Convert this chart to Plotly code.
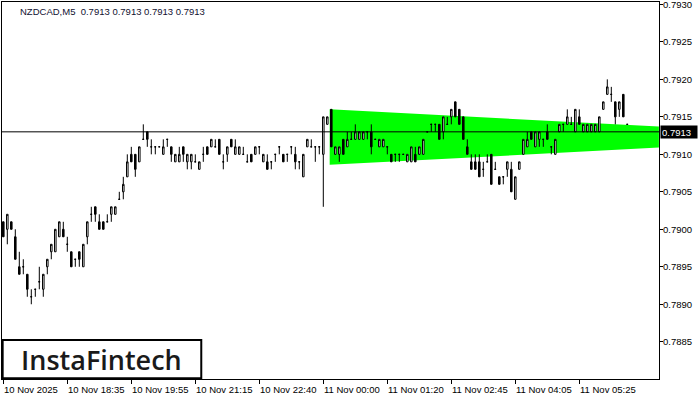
import plotly.graph_objects as go

# NZDCAD M5 candles, one per bar index
bar_open = [
    0.7901, 0.7900, 0.7901, 0.7899, 0.7895, 0.7895, 0.7894, 0.7891, 0.7892, 0.7893,
    0.7892, 0.7895, 0.7897, 0.7897, 0.7899, 0.7900, 0.7898, 0.7897, 0.7896, 0.7897,
    0.7895, 0.7899, 0.7902, 0.7903, 0.7901, 0.7901, 0.7901, 0.7902, 0.7902, 0.7904,
    0.7905, 0.7907, 0.7910, 0.7910, 0.7909, 0.7912, 0.7913, 0.7911, 0.7911, 0.7911,
    0.7910, 0.7912, 0.7911, 0.7909, 0.7909, 0.7911, 0.7909, 0.7909, 0.7909, 0.7908,
    0.7910, 0.7911, 0.7911, 0.7911, 0.7912, 0.7909, 0.7910, 0.7912, 0.7910, 0.7910,
    0.7910, 0.7909, 0.7910, 0.7910, 0.7911, 0.7909, 0.7909, 0.7909, 0.7910, 0.7911,
    0.7910, 0.7910, 0.7911, 0.7910, 0.7909, 0.7907, 0.7911, 0.7911, 0.7911, 0.7911,
    0.7910, 0.7914, 0.7916, 0.7910, 0.7910, 0.7912, 0.7911, 0.7912, 0.7912, 0.7912,
    0.7912, 0.7913, 0.7913, 0.7912, 0.7911, 0.7911, 0.7911, 0.7910, 0.7910, 0.7910,
    0.7910, 0.7909, 0.7909, 0.7910, 0.7910, 0.7910, 0.7913, 0.7914, 0.7914, 0.7914,
    0.7913, 0.7914, 0.7915, 0.7917, 0.7916, 0.7915, 0.7911, 0.7909, 0.7909, 0.7909,
    0.7908, 0.7909, 0.7910, 0.7908, 0.7907, 0.7907, 0.7908, 0.7908, 0.7904, 0.7908,
    0.7910, 0.7911, 0.7913, 0.7911, 0.7912, 0.7912, 0.7913, 0.7911, 0.7910, 0.7913,
    0.7914, 0.7914, 0.7914, 0.7913, 0.7915, 0.7913, 0.7913, 0.7913, 0.7913, 0.7913,
    0.7916, 0.7918, 0.7918, 0.7917, 0.7916, 0.7918, 0.7914,
]
bar_high = [
    0.7901, 0.7902, 0.7901, 0.7900, 0.7897, 0.7896, 0.7894, 0.7892, 0.7892, 0.7895,
    0.7894, 0.7896, 0.7898, 0.7900, 0.7901, 0.7901, 0.7899, 0.7897, 0.7896, 0.7897,
    0.7898, 0.7901, 0.7903, 0.7903, 0.7902, 0.7901, 0.7902, 0.7903, 0.7903, 0.7905,
    0.7907, 0.7910, 0.7911, 0.7910, 0.7911, 0.7914, 0.7913, 0.7912, 0.7911, 0.7911,
    0.7912, 0.7912, 0.7911, 0.7910, 0.7911, 0.7911, 0.7910, 0.7910, 0.7910, 0.7909,
    0.7911, 0.7911, 0.7912, 0.7912, 0.7912, 0.7910, 0.7911, 0.7912, 0.7912, 0.7911,
    0.7911, 0.7910, 0.7910, 0.7911, 0.7911, 0.7910, 0.7910, 0.7909, 0.7910, 0.7911,
    0.7910, 0.7910, 0.7911, 0.7911, 0.7909, 0.7910, 0.7912, 0.7912, 0.7911, 0.7911,
    0.7915, 0.7915, 0.7916, 0.7911, 0.7911, 0.7912, 0.7913, 0.7913, 0.7914, 0.7913,
    0.7913, 0.7913, 0.7914, 0.7912, 0.7912, 0.7912, 0.7911, 0.7910, 0.7910, 0.7910,
    0.7910, 0.7910, 0.7911, 0.7911, 0.7911, 0.7912, 0.7913, 0.7914, 0.7914, 0.7914,
    0.7915, 0.7915, 0.7916, 0.7917, 0.7916, 0.7915, 0.7912, 0.7910, 0.7910, 0.7910,
    0.7909, 0.7910, 0.7910, 0.7909, 0.7907, 0.7907, 0.7909, 0.7909, 0.7907, 0.7909,
    0.7912, 0.7913, 0.7913, 0.7913, 0.7913, 0.7912, 0.7914, 0.7911, 0.7912, 0.7914,
    0.7914, 0.7916, 0.7915, 0.7916, 0.7916, 0.7914, 0.7914, 0.7914, 0.7914, 0.7915,
    0.7917, 0.7920, 0.7919, 0.7917, 0.7917, 0.7918, 0.7914,
]
bar_low = [
    0.7899, 0.7898, 0.7900, 0.7896, 0.7894, 0.7894, 0.7891, 0.7890, 0.7891, 0.7892,
    0.7891, 0.7894, 0.7896, 0.7897, 0.7899, 0.7899, 0.7897, 0.7895, 0.7895, 0.7895,
    0.7895, 0.7898, 0.7901, 0.7901, 0.7900, 0.7900, 0.7901, 0.7901, 0.7902, 0.7904,
    0.7904, 0.7907, 0.7909, 0.7907, 0.7909, 0.7912, 0.7911, 0.7910, 0.7910, 0.7911,
    0.7910, 0.7911, 0.7909, 0.7909, 0.7909, 0.7909, 0.7908, 0.7908, 0.7909, 0.7908,
    0.7909, 0.7910, 0.7911, 0.7911, 0.7910, 0.7908, 0.7909, 0.7911, 0.7910, 0.7910,
    0.7910, 0.7909, 0.7909, 0.7910, 0.7910, 0.7909, 0.7908, 0.7908, 0.7909, 0.7910,
    0.7909, 0.7909, 0.7910, 0.7908, 0.7908, 0.7907, 0.7911, 0.7911, 0.7909, 0.7910,
    0.7903, 0.7914, 0.7911, 0.7910, 0.7909, 0.7910, 0.7911, 0.7912, 0.7912, 0.7912,
    0.7912, 0.7912, 0.7910, 0.7912, 0.7911, 0.7911, 0.7910, 0.7909, 0.7909, 0.7909,
    0.7910, 0.7909, 0.7909, 0.7909, 0.7910, 0.7910, 0.7913, 0.7913, 0.7913, 0.7912,
    0.7912, 0.7914, 0.7914, 0.7915, 0.7914, 0.7912, 0.7910, 0.7908, 0.7908, 0.7907,
    0.7907, 0.7909, 0.7906, 0.7908, 0.7906, 0.7906, 0.7907, 0.7905, 0.7904, 0.7908,
    0.7910, 0.7911, 0.7912, 0.7911, 0.7911, 0.7911, 0.7912, 0.7910, 0.7910, 0.7913,
    0.7913, 0.7914, 0.7914, 0.7913, 0.7914, 0.7913, 0.7913, 0.7913, 0.7913, 0.7913,
    0.7916, 0.7918, 0.7917, 0.7914, 0.7915, 0.7915, 0.7914,
]
bar_close = [
    0.7899, 0.7902, 0.7900, 0.7896, 0.7894, 0.7895, 0.7892, 0.7891, 0.7892, 0.7893,
    0.7894, 0.7896, 0.7898, 0.7900, 0.7901, 0.7899, 0.7898, 0.7895, 0.7896, 0.7896,
    0.7898, 0.7901, 0.7902, 0.7902, 0.7900, 0.7900, 0.7901, 0.7903, 0.7903, 0.7904,
    0.7906, 0.7909, 0.7909, 0.7908, 0.7911, 0.7912, 0.7912, 0.7911, 0.7911, 0.7911,
    0.7911, 0.7912, 0.7910, 0.7910, 0.7910, 0.7910, 0.7910, 0.7910, 0.7909, 0.7909,
    0.7910, 0.7910, 0.7912, 0.7911, 0.7910, 0.7909, 0.7911, 0.7911, 0.7911, 0.7911,
    0.7910, 0.7909, 0.7909, 0.7911, 0.7911, 0.7910, 0.7908, 0.7909, 0.7910, 0.7911,
    0.7909, 0.7910, 0.7911, 0.7909, 0.7909, 0.7910, 0.7912, 0.7911, 0.7911, 0.7911,
    0.7915, 0.7915, 0.7911, 0.7911, 0.7911, 0.7910, 0.7912, 0.7912, 0.7913, 0.7913,
    0.7913, 0.7913, 0.7911, 0.7912, 0.7912, 0.7912, 0.7911, 0.7909, 0.7910, 0.7910,
    0.7910, 0.7910, 0.7911, 0.7909, 0.7911, 0.7912, 0.7913, 0.7914, 0.7914, 0.7912,
    0.7915, 0.7914, 0.7916, 0.7915, 0.7914, 0.7912, 0.7910, 0.7908, 0.7908, 0.7907,
    0.7908, 0.7909, 0.7906, 0.7908, 0.7906, 0.7907, 0.7909, 0.7905, 0.7907, 0.7909,
    0.7912, 0.7912, 0.7912, 0.7913, 0.7913, 0.7912, 0.7912, 0.7911, 0.7912, 0.7914,
    0.7914, 0.7915, 0.7914, 0.7916, 0.7914, 0.7914, 0.7914, 0.7914, 0.7914, 0.7915,
    0.7917, 0.7919, 0.7918, 0.7915, 0.7917, 0.7915, 0.7914,
]
bars = list(range(len(bar_close)))

# time labels, every 16 bars
tick_bars = [0, 16, 32, 48, 64, 80, 96, 112, 128, 144]
tick_text = ['10 Nov 2025', '10 Nov 18:35', '10 Nov 19:55', '10 Nov 21:15', '10 Nov 22:40',
             '11 Nov 00:00', '11 Nov 01:20', '11 Nov 02:45', '11 Nov 04:05', '11 Nov 05:25']

price_ticks = [0.7885, 0.7890, 0.7895, 0.7900, 0.7905, 0.7910, 0.7915, 0.7920, 0.7925, 0.7930]
last_price = 0.7913

# pennant (green area)
pattern_x = [81.6, 163.9]
pattern_top = [0.79160, 0.79137]
pattern_bottom = [0.79086, 0.79109]

font = 'Liberation Sans'

fig = go.Figure()

fig.add_trace(go.Candlestick(
    x=bars, open=bar_open, high=bar_high, low=bar_low, close=bar_close,
    increasing=dict(line=dict(color='black', width=1), fillcolor='white'),
    decreasing=dict(line=dict(color='black', width=1), fillcolor='black'),
    whiskerwidth=0, showlegend=False
))

# green pattern goes under the candles
pennant_path = 'M {0},{1} L {2},{3} L {2},{4} L {0},{5} Z'.format(
    pattern_x[0], pattern_top[0], pattern_x[1], pattern_top[1], pattern_bottom[1], pattern_bottom[0])
fig.add_shape(type='path', path=pennant_path, xref='x', yref='y',
              fillcolor='#00ff00', line=dict(width=0), layer='below')

fig.add_hline(y=last_price, line=dict(color='black', width=1))

annotations = []
for b, t in zip(tick_bars, tick_text):
    annotations.append(dict(
        x=b, xref='x', y=0, yref='paper', text=t, showarrow=False,
        xanchor='left', yanchor='middle', xshift=-1, yshift=-10,
        font=dict(family=font, size=9.5, color='black')
    ))

for p in price_ticks:
    annotations.append(dict(
        x=1, xref='paper', y=p, yref='y', text='{:.4f}'.format(p), showarrow=False,
        xanchor='left', yanchor='middle', xshift=2,
        font=dict(family=font, size=9.5, color='black')
    ))

annotations.append(dict(
    x=0, xref='paper', y=1, yref='paper', xshift=16, yshift=-9,
    text='NZDCAD,M5\u00a0\u00a00.7913 0.7913 0.7913 0.7913', showarrow=False,
    xanchor='left', yanchor='middle', font=dict(family=font, size=9.5, color='#101030')
))

annotations.append(dict(
    x=1, xref='paper', y=last_price, yref='y', xshift=1, text='0.7913', showarrow=False,
    xanchor='left', yanchor='middle', bgcolor='black', width=34, height=10, align='left',
    font=dict(family=font, size=9.5, color='white')
))

# logo
annotations.append(dict(
    x=0.1522, xref='paper', y=0.052, yref='paper', text='InstaFintech', showarrow=False,
    xanchor='center', yanchor='middle', font=dict(family='Open Sans', size=27, color='#1a1a1a', weight=600)
))

fig.add_shape(type='rect', xref='paper', yref='paper', x0=0.001, x1=0.3033, y0=0.002, y1=0.1034,
              line=dict(color='black', width=2), fillcolor='rgba(0,0,0,0)')

fig.update_layout(
    width=700, height=400,
    margin=dict(l=2, r=41, t=2, b=21),
    paper_bgcolor='white', plot_bgcolor='white',
    boxgap=0.45,
    annotations=annotations,
    xaxis=dict(
        range=[-0.325, 163.925], rangeslider=dict(visible=False),
        showgrid=False, zeroline=False, showline=True, linecolor='black', linewidth=1, mirror=True,
        ticks='outside', ticklen=4, tickcolor='black', tickvals=tick_bars, showticklabels=False
    ),
    yaxis=dict(
        range=[0.788003, 0.793032], side='right',
        showgrid=False, zeroline=False, showline=True, linecolor='black', linewidth=1, mirror=True,
        ticks='outside', ticklen=3, tickcolor='black', tickvals=price_ticks, showticklabels=False
    ),
)

# the page body has an 8px default margin; drop it so the chart sits at the window corner
fig.write_html("out.html", config={'displayModeBar': False},
               post_script="document.body.style.margin='0';")
